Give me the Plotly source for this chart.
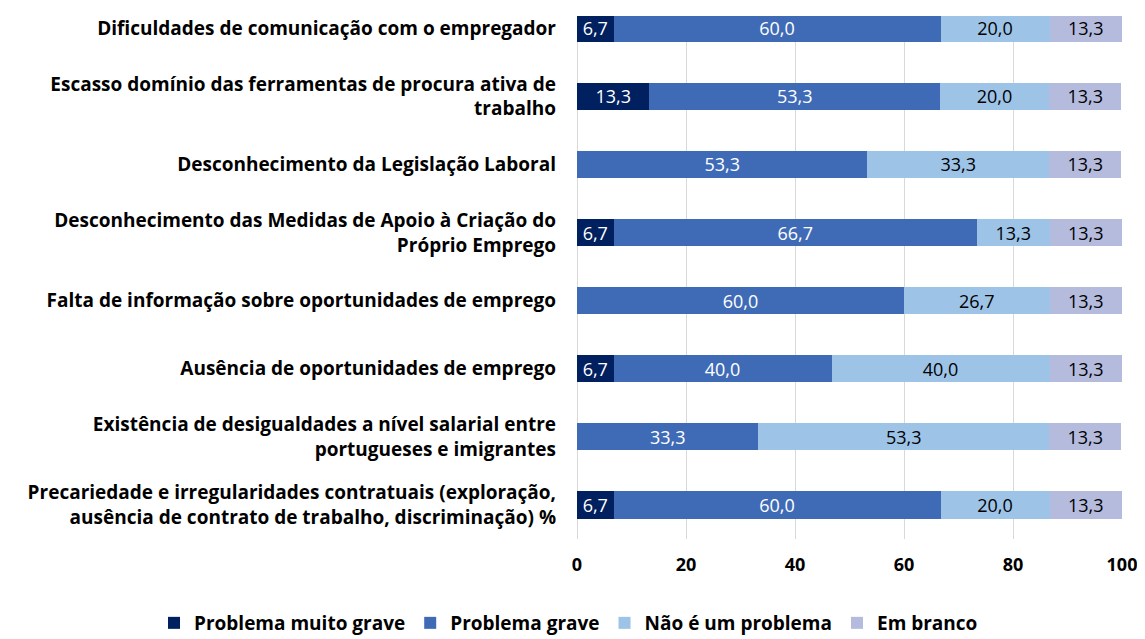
import plotly.graph_objs as go

categorias = [
    'Dificuldades de comunicação com o empregador',
    'Escasso domínio das ferramentas de procura ativa de<br>trabalho',
    'Desconhecimento da Legislação Laboral',
    'Desconhecimento das Medidas de Apoio à Criação do<br>Próprio Emprego',
    'Falta de informação sobre oportunidades de emprego',
    'Ausência de oportunidades de emprego',
    'Existência de desigualdades a nível salarial entre<br>portugueses e imigrantes',
    'Precariedade e irregularidades contratuais (exploração,<br>ausência de contrato de trabalho, discriminação) %',
]

muito_grave = [6.7, 13.3, 0, 6.7, 0, 6.7, 0, 6.7]
grave = [60.0, 53.3, 53.3, 66.7, 60.0, 40.0, 33.3, 60.0]
nao_problema = [20.0, 20.0, 33.3, 13.3, 26.7, 40.0, 53.3, 20.0]
em_branco = [13.3, 13.3, 13.3, 13.3, 13.3, 13.3, 13.3, 13.3]

series = [
    ('Problema muito grave', muito_grave, '#002060', 'white'),
    ('Problema grave', grave, '#3F6BB6', 'white'),
    ('Não é um problema', nao_problema, '#9DC3E6', 'black'),
    ('Em branco', em_branco, '#B4BBDD', 'black'),
]


def rotulo(v):
    # sem rótulo para valores nulos
    return ('%.1f' % v).replace('.', ',') if v else ''


fonte_cat = dict(size=19, family='Open Sans', weight='bold')
fonte = dict(size=18, family='Open Sans', weight='bold')
fonte_leg = dict(size=19, family='Open Sans', weight='bold')

# a página html tem 8px de margem no body -> figura 8px mais pequena
W, H = 1137, 631
L, R, T, B = 569, 23, 8, 100
ph = H - T - B

fig = go.Figure()
for nome, valores, cor, cor_txt in series:
    fig.add_trace(go.Bar(
        y=categorias, x=valores, name=nome, orientation='h',
        marker=dict(color=cor, line=dict(width=0)),
        text=[rotulo(v) for v in valores],
        textposition='inside', insidetextanchor='middle',
        textfont=dict(color=cor_txt, size=18, family='Open Sans'),
        cliponaxis=False,
    ))

fig.update_layout(
    barmode='stack',
    bargap=0.6,
    width=W, height=H,
    margin=dict(l=L, r=R, t=T, b=B, autoexpand=False),
    plot_bgcolor='white', paper_bgcolor='white',
    font=dict(family='Open Sans', color='black'),
    uniformtext=dict(minsize=18, mode='show'),
    xaxis=dict(range=[0, 100], dtick=20, showgrid=True, gridcolor='#D9D9D9',
               zeroline=True, zerolinecolor='#D9D9D9', zerolinewidth=1,
               tickfont=fonte, ticks='', ticklabelstandoff=13, automargin=False),
    yaxis=dict(categoryorder='array', categoryarray=categorias,
               range=[7.5, -0.18], showgrid=False, automargin=False,
               tickfont=fonte_cat, ticks='', ticklabelstandoff=20),
    legend=dict(orientation='h', x=(146 - L) / (W - L - R), xanchor='left',
                y=(H - B - 615) / ph, yanchor='middle',
                font=fonte_leg, traceorder='normal', itemwidth=30),
)

fig.write_html('out.html')
